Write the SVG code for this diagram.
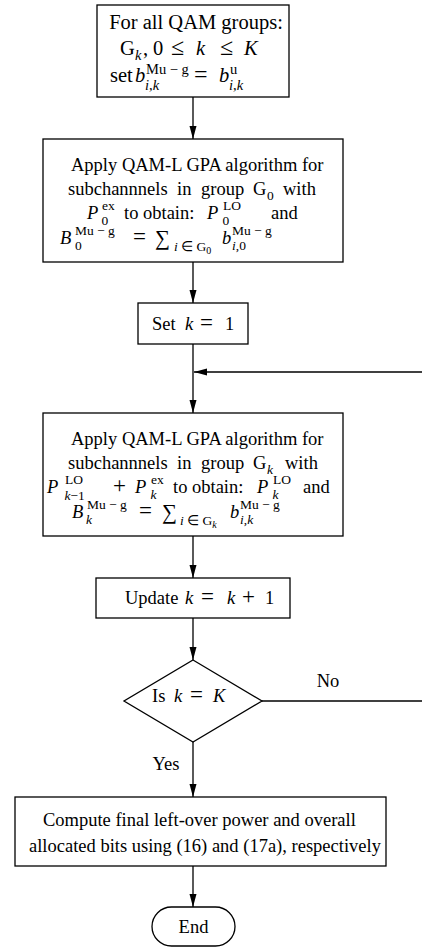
<svg xmlns="http://www.w3.org/2000/svg" width="422" height="949" viewBox="0 0 422 949">
<style>
text { font-family: "Liberation Serif", "Times New Roman", serif; font-size: 18.5px; fill: #000; }
.i { font-style: italic; }
.s { font-size: 13.5px; }
.ss { font-size: 10px; }
.b1 { font-size: 20.5px; }
.s1 { font-size: 14.5px; }
.r { font-size: 23px; }
.r1 { font-size: 24px; }
.sg { font-size: 21px; }
.box { fill: #fff; stroke: #000; stroke-width: 1.3; }
.ln { fill: none; stroke: #000; stroke-width: 1.3; }
</style>
<defs>
<marker id="ah" markerUnits="userSpaceOnUse" markerWidth="14" markerHeight="8" refX="13" refY="3.5" orient="auto">
<path d="M0,0 L13,3.5 L0,7 z" fill="#000"/>
</marker>
</defs>
<rect width="422" height="949" fill="#fff"/>

<g id="connectors">
<line class="ln" x1="193" y1="97" x2="193" y2="139" marker-end="url(#ah)"/>
<line class="ln" x1="193" y1="262" x2="193" y2="303" marker-end="url(#ah)"/>
<line class="ln" x1="193" y1="344" x2="193" y2="413" marker-end="url(#ah)"/>
<line class="ln" x1="422" y1="372" x2="194" y2="372" marker-end="url(#ah)"/>
<line class="ln" x1="193" y1="536" x2="193" y2="578" marker-end="url(#ah)"/>
<line class="ln" x1="193" y1="618" x2="193" y2="660" marker-end="url(#ah)"/>
<line class="ln" x1="262" y1="701" x2="422" y2="701"/>
<line class="ln" x1="193" y1="742" x2="193" y2="797" marker-end="url(#ah)"/>
<line class="ln" x1="193" y1="866" x2="193" y2="907" marker-end="url(#ah)"/>
<text x="328" y="687" text-anchor="middle">No</text>
<text x="166" y="770" text-anchor="middle">Yes</text>
</g>

<g id="n1">
<rect class="box" x="97" y="5" width="192" height="92"/>
<text class="b1" x="196" y="29" text-anchor="middle">For all QAM groups:</text>
<text class="b1" x="120" y="55">G</text>
<text class="s1 i" x="135" y="60">k</text>
<text class="b1" x="143" y="55">,</text>
<text class="b1" x="153" y="55">0</text>
<text class="r1" x="171" y="55">≤</text>
<text class="b1 i" x="196" y="55">k</text>
<text class="r1" x="220" y="55">≤</text>
<text class="b1 i" x="244" y="55">K</text>
<text class="b1" x="110" y="82">set</text>
<text class="b1 i" x="135" y="82">b</text>
<text class="s1" x="146" y="74">Mu − g</text>
<text class="s1" x="145" y="90"><tspan class="i">i</tspan>,<tspan class="i">k</tspan></text>
<text class="r1" x="194" y="82">=</text>
<text class="b1 i" x="219" y="82">b</text>
<text class="s1" x="230" y="74">u</text>
<text class="s1" x="229" y="90"><tspan class="i">i</tspan>,<tspan class="i">k</tspan></text>
</g>

<g id="n2">
<rect class="box" x="43" y="139" width="300" height="123"/>
<text x="71" y="171">Apply QAM-L GPA algorithm for</text>
<text x="68" y="195">subchannnels</text>
<text x="177" y="195">in</text>
<text x="201" y="195">group</text>
<text x="253" y="195">G</text>
<text class="s" x="267" y="200">0</text>
<text x="283" y="195">with</text>
<text class="i" x="87" y="219">P</text>
<text class="s" x="102" y="210">ex</text>
<text class="s" x="101.5" y="224.5">0</text>
<text x="124" y="219">to obtain:</text>
<text class="i" x="207" y="219">P</text>
<text class="s" x="223" y="210">LO</text>
<text class="s" x="222.5" y="224.5">0</text>
<text x="271" y="219">and</text>
<text class="i" x="60" y="244">B</text>
<text class="s" x="75" y="235">Mu − g</text>
<text class="s" x="75" y="250">0</text>
<text class="r" x="133" y="244">=</text>
<text class="sg" x="155" y="245">∑</text>
<text class="s" x="174" y="251"><tspan class="i">i</tspan> ∈ G<tspan class="ss" dy="3">0</tspan></text>
<text class="i" x="222" y="244">b</text>
<text class="s" x="232" y="235">Mu − g</text>
<text class="s" x="232" y="250"><tspan class="i">i</tspan>,0</text>
</g>

<g id="n3">
<rect class="box" x="138" y="303" width="110" height="41"/>
<text x="152" y="330">Set</text>
<text class="i" x="185" y="330">k</text>
<text class="r" x="200" y="330">=</text>
<text x="225" y="330">1</text>
</g>

<g id="n4">
<rect class="box" x="43" y="413" width="300" height="123"/>
<text x="71" y="445">Apply QAM-L GPA algorithm for</text>
<text x="68" y="469">subchannnels</text>
<text x="177" y="469">in</text>
<text x="201" y="469">group</text>
<text x="253" y="469">G</text>
<text class="s i" x="267" y="474">k</text>
<text x="285" y="469">with</text>
<text class="i" x="47" y="493">P</text>
<text class="s" x="65" y="484">LO</text>
<text class="s" x="64.5" y="499.5"><tspan class="i">k</tspan>−1</text>
<text class="r" x="113" y="493">+</text>
<text class="i" x="135" y="493">P</text>
<text class="s" x="151" y="484">ex</text>
<text class="s i" x="150.5" y="498.5">k</text>
<text x="173" y="493">to obtain:</text>
<text class="i" x="257" y="493">P</text>
<text class="s" x="273" y="484">LO</text>
<text class="s i" x="272.5" y="498.5">k</text>
<text x="303" y="493">and</text>
<text class="i" x="72" y="518">B</text>
<text class="s" x="87" y="509">Mu − g</text>
<text class="s i" x="86" y="524">k</text>
<text class="r" x="139" y="518">=</text>
<text class="sg" x="162" y="519">∑</text>
<text class="s" x="180" y="525"><tspan class="i">i</tspan> ∈ G<tspan class="ss i" dy="3">k</tspan></text>
<text class="i" x="230" y="518">b</text>
<text class="s" x="240" y="509">Mu − g</text>
<text class="s" x="240" y="524"><tspan class="i">i</tspan>,<tspan class="i">k</tspan></text>
</g>

<g id="n5">
<rect class="box" x="96" y="578" width="194" height="40"/>
<text x="125" y="604">Update</text>
<text class="i" x="185" y="604">k</text>
<text class="r" x="201" y="604">=</text>
<text class="i" x="227" y="604">k</text>
<text class="r" x="242" y="604">+</text>
<text x="265" y="604">1</text>
</g>

<g id="n6">
<polygon class="box" points="193,660 262,701 193,742 124,701"/>
<text x="152" y="702">Is</text>
<text class="i" x="174" y="702">k</text>
<text class="r" x="190" y="702">=</text>
<text class="i" x="213" y="702">K</text>
</g>

<g id="n7">
<rect class="box" x="15" y="797" width="371" height="69"/>
<text x="43" y="826">Compute final left-over power and overall</text>
<text x="29" y="852">allocated bits using (16) and (17a), respectively</text>
</g>

<g id="n8">
<rect class="box" x="152" y="907" width="83" height="39" rx="19.5"/>
<text x="193.5" y="933" text-anchor="middle">End</text>
</g>
</svg>
